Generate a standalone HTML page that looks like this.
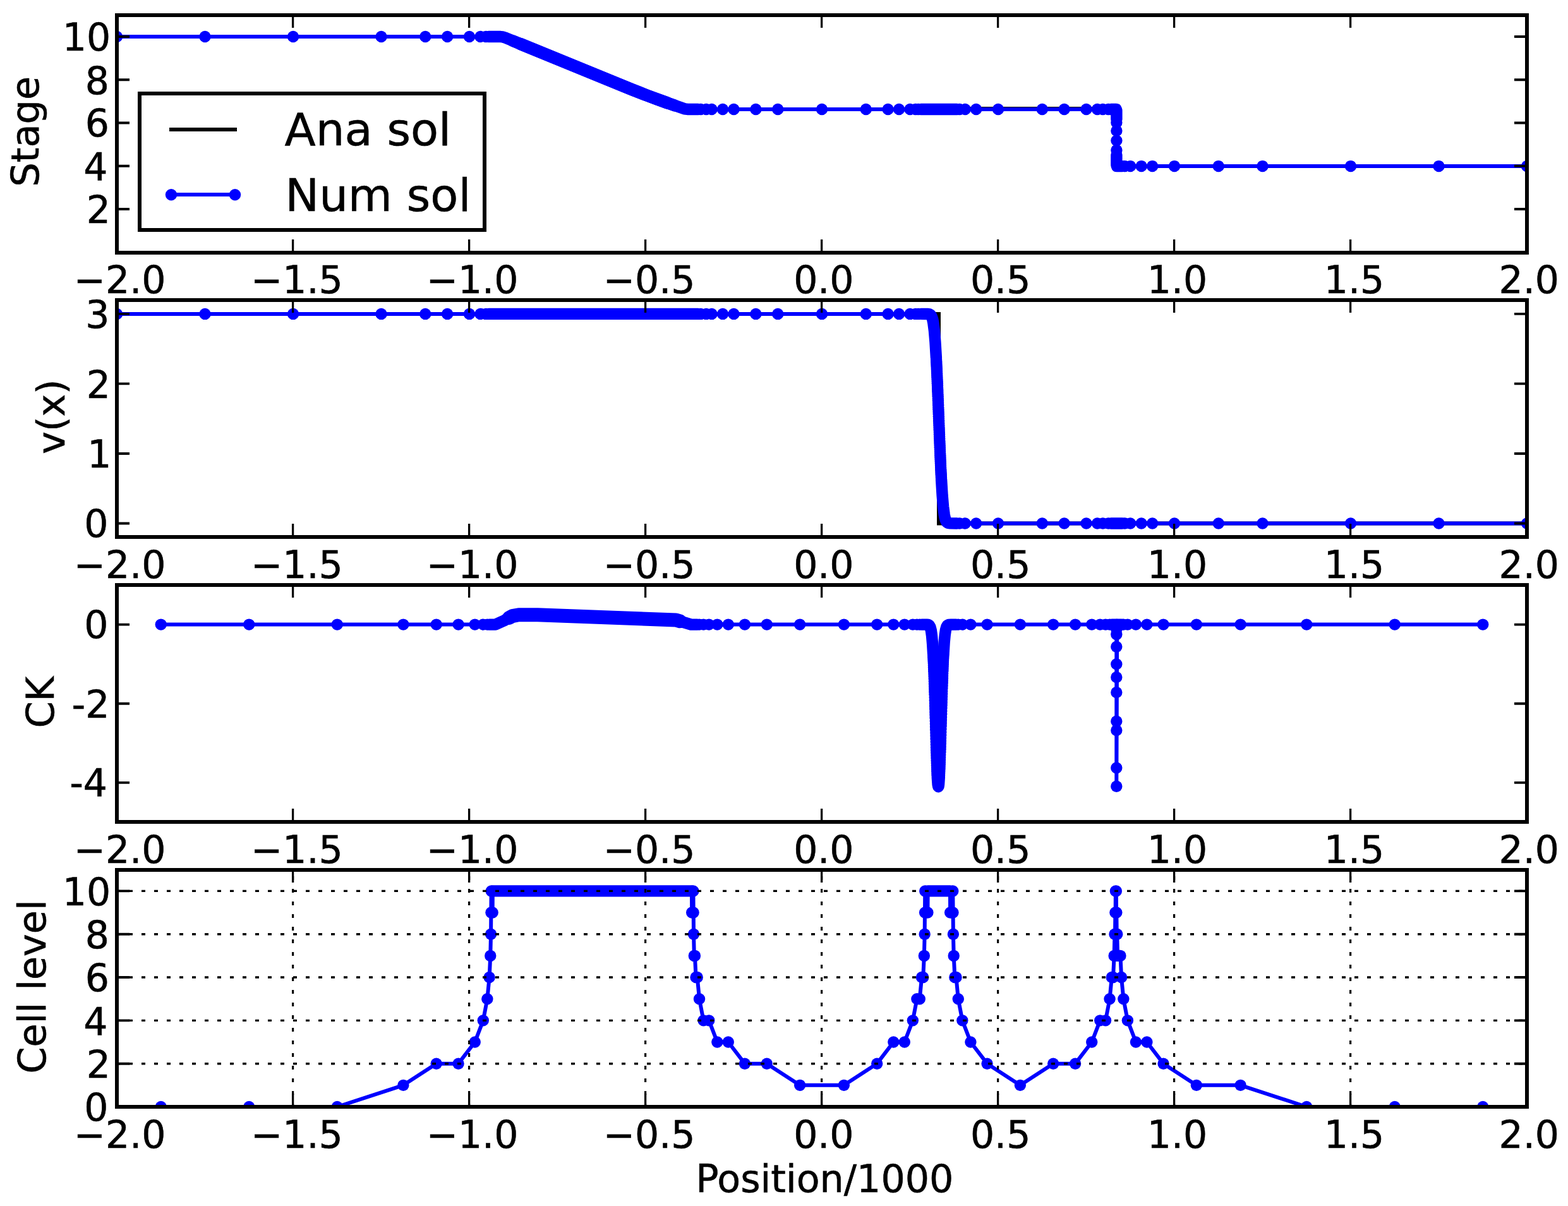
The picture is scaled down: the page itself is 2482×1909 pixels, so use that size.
<!DOCTYPE html>
<html lang="en"><head><meta charset="utf-8"><title>Dam-break adaptive mesh solution</title>
<style>html,body{margin:0;padding:0;background:#fff}svg{display:block}text{font-family:"DejaVu Sans","Liberation Sans",sans-serif;fill:#000;stroke:#000;stroke-width:0.6px}.t{font-size:60px}.lg{font-size:72px}</style></head><body>
<svg width="2482" height="1909" viewBox="0 0 2482 1909">
<rect width="2482" height="1909" fill="#fff"/>
<defs>
<clipPath id="c0"><rect x="185" y="24" width="2232" height="376"/></clipPath>
<clipPath id="c1"><rect x="185" y="475" width="2232" height="375"/></clipPath>
<clipPath id="c2"><rect x="185" y="926" width="2232" height="375"/></clipPath>
<clipPath id="c3"><rect x="185" y="1377" width="2232" height="375"/></clipPath>
</defs>
<g clip-path="url(#c0)">
<polyline points="185,58 787.64,58 1088.96,173 1501.88,173 1501.88,172.1 1767.4,172.1 1767.4,263.09 2417,263.09" fill="none" stroke="#000" stroke-width="6" stroke-linecap="butt" stroke-linejoin="miter"/>
<polyline points="185,58 791.5,58 793.95,58.19 797.08,58.83 799.54,59.65 995.98,139.96 1017.64,148.56 1045.84,159.19 1080.99,171.59 1084.26,172.47 1087.39,172.92 1766.77,173 1767.4,175 1767.4,261 1768,263.09 2417,263.09" fill="none" stroke="#0000ff" stroke-width="6" stroke-linecap="butt" stroke-linejoin="round"/>
<polyline points="773.52,58 792.32,58.03 795.45,58.44 798.72,59.34 998.43,140.95 1019.96,149.46 1043.39,158.29 1083.44,172.29 1088.21,172.97 1104.83,173" fill="none" stroke="#0000ff" stroke-width="18.4" stroke-linecap="round" stroke-linejoin="round"/>
<polyline points="1457.94,173 1514.61,173" fill="none" stroke="#0000ff" stroke-width="18.4" stroke-linecap="round" stroke-linejoin="round"/>
<polyline points="1758.73,173 1766.77,173 1767.4,175 1767.4,189" fill="none" stroke="#0000ff" stroke-width="18.4" stroke-linecap="round" stroke-linejoin="round"/>
<polyline points="1767.4,245 1767.4,261 1768,263.09 1776.17,263.09" fill="none" stroke="#0000ff" stroke-width="18.4" stroke-linecap="round" stroke-linejoin="round"/>
<circle cx="185" cy="58" r="9.2" fill="#0000ff"/>
<circle cx="324.5" cy="58" r="9.2" fill="#0000ff"/>
<circle cx="464" cy="58" r="9.2" fill="#0000ff"/>
<circle cx="603.5" cy="58" r="9.2" fill="#0000ff"/>
<circle cx="673.25" cy="58" r="9.2" fill="#0000ff"/>
<circle cx="708.12" cy="58" r="9.2" fill="#0000ff"/>
<circle cx="743" cy="58" r="9.2" fill="#0000ff"/>
<circle cx="760.44" cy="58" r="9.2" fill="#0000ff"/>
<circle cx="769.16" cy="58" r="9.2" fill="#0000ff"/>
<circle cx="1109.19" cy="173" r="9.2" fill="#0000ff"/>
<circle cx="1117.91" cy="173" r="9.2" fill="#0000ff"/>
<circle cx="1126.62" cy="173" r="9.2" fill="#0000ff"/>
<circle cx="1144.06" cy="173" r="9.2" fill="#0000ff"/>
<circle cx="1161.5" cy="173" r="9.2" fill="#0000ff"/>
<circle cx="1196.38" cy="173" r="9.2" fill="#0000ff"/>
<circle cx="1231.25" cy="173" r="9.2" fill="#0000ff"/>
<circle cx="1301" cy="173" r="9.2" fill="#0000ff"/>
<circle cx="1370.75" cy="173" r="9.2" fill="#0000ff"/>
<circle cx="1405.62" cy="173" r="9.2" fill="#0000ff"/>
<circle cx="1423.06" cy="173" r="9.2" fill="#0000ff"/>
<circle cx="1440.5" cy="173" r="9.2" fill="#0000ff"/>
<circle cx="1449.22" cy="173" r="9.2" fill="#0000ff"/>
<circle cx="1453.58" cy="173" r="9.2" fill="#0000ff"/>
<circle cx="1518.97" cy="173" r="9.2" fill="#0000ff"/>
<circle cx="1527.69" cy="173" r="9.2" fill="#0000ff"/>
<circle cx="1545.12" cy="173" r="9.2" fill="#0000ff"/>
<circle cx="1580" cy="173" r="9.2" fill="#0000ff"/>
<circle cx="1649.75" cy="173" r="9.2" fill="#0000ff"/>
<circle cx="1684.62" cy="173" r="9.2" fill="#0000ff"/>
<circle cx="1719.5" cy="173" r="9.2" fill="#0000ff"/>
<circle cx="1736.94" cy="173" r="9.2" fill="#0000ff"/>
<circle cx="1745.66" cy="173" r="9.2" fill="#0000ff"/>
<circle cx="1754.38" cy="173" r="9.2" fill="#0000ff"/>
<circle cx="1767.4" cy="194" r="9.2" fill="#0000ff"/>
<circle cx="1767.4" cy="207" r="9.2" fill="#0000ff"/>
<circle cx="1767.4" cy="222.6" r="9.2" fill="#0000ff"/>
<circle cx="1767.4" cy="237.8" r="9.2" fill="#0000ff"/>
<circle cx="1780.53" cy="263.09" r="9.2" fill="#0000ff"/>
<circle cx="1789.25" cy="263.09" r="9.2" fill="#0000ff"/>
<circle cx="1806.69" cy="263.09" r="9.2" fill="#0000ff"/>
<circle cx="1824.12" cy="263.09" r="9.2" fill="#0000ff"/>
<circle cx="1859" cy="263.09" r="9.2" fill="#0000ff"/>
<circle cx="1928.75" cy="263.09" r="9.2" fill="#0000ff"/>
<circle cx="1998.5" cy="263.09" r="9.2" fill="#0000ff"/>
<circle cx="2138" cy="263.09" r="9.2" fill="#0000ff"/>
<circle cx="2277.5" cy="263.09" r="9.2" fill="#0000ff"/>
<circle cx="2417" cy="263.09" r="9.2" fill="#0000ff"/>
<polyline points="812,64.74 1000,141.59 1020,149.48 1040,157.02 1068,167.02" fill="none" stroke="#0000ff" stroke-width="19" stroke-linecap="round" stroke-linejoin="round"/>
<polyline points="824,69.65 1000,141.59 1024,151 1056,162.79" fill="none" stroke="#0000ff" stroke-width="19.6" stroke-linecap="round" stroke-linejoin="round"/>
</g>
<path d="M463.6 400v-21 M463.6 24v20" stroke="#000" stroke-width="3.3" fill="none"/>
<path d="M742.6 400v-21 M742.6 24v20" stroke="#000" stroke-width="3.3" fill="none"/>
<path d="M1021.6 400v-21 M1021.6 24v20" stroke="#000" stroke-width="3.3" fill="none"/>
<path d="M1300.6 400v-21 M1300.6 24v20" stroke="#000" stroke-width="3.3" fill="none"/>
<path d="M1579.6 400v-21 M1579.6 24v20" stroke="#000" stroke-width="3.3" fill="none"/>
<path d="M1858.6 400v-21 M1858.6 24v20" stroke="#000" stroke-width="3.3" fill="none"/>
<path d="M2137.6 400v-21 M2137.6 24v20" stroke="#000" stroke-width="3.3" fill="none"/>
<path d="M185 331h20 M2417 331h-20" stroke="#000" stroke-width="3.9" fill="none"/>
<path d="M185 262.75h20 M2417 262.75h-20" stroke="#000" stroke-width="3.9" fill="none"/>
<path d="M185 194.5h20 M2417 194.5h-20" stroke="#000" stroke-width="3.9" fill="none"/>
<path d="M185 126.25h20 M2417 126.25h-20" stroke="#000" stroke-width="3.9" fill="none"/>
<path d="M185 58h20 M2417 58h-20" stroke="#000" stroke-width="3.9" fill="none"/>
<rect x="185" y="24" width="2232" height="376" fill="none" stroke="#000" stroke-width="6"/>
<rect x="221" y="148" width="546" height="216" fill="#fff" stroke="#000" stroke-width="6"/>
<line x1="268" y1="205" x2="375" y2="205" stroke="#000" stroke-width="6"/>
<line x1="271" y1="308" x2="372" y2="308" stroke="#0000ff" stroke-width="6"/>
<circle cx="271" cy="308.3" r="9.2" fill="#0000ff"/><circle cx="372" cy="308.3" r="9.2" fill="#0000ff"/>
<text class="lg" x="450.5" y="230">Ana sol</text>
<text class="lg" x="451.3" y="334">Num sol</text>
<g clip-path="url(#c1)">
<polyline points="185,496.89 1486,496.89 1486,828.45 2417,828.45" fill="none" stroke="#000" stroke-width="6" stroke-linecap="butt" stroke-linejoin="miter"/>
<polyline points="185,496.89 1460.12,496.89 1469.79,497.11 1471.7,497.65 1473.2,498.75 1474.42,500.51 1475.51,503.15 1476.46,506.66 1477.42,511.67 1479.19,526.29 1480.96,549.64 1482.6,579.79 1488.73,730.76 1490.22,761.68 1491.72,785.84 1493.49,805.62 1495.4,818.07 1496.49,822.2 1497.72,825.08 1499.08,826.86 1500.85,827.91 1503.44,828.36 1509.16,828.45 2417,828.45" fill="none" stroke="#0000ff" stroke-width="6" stroke-linecap="butt" stroke-linejoin="round"/>
<polyline points="773.52,496.89 1104.83,496.89" fill="none" stroke="#0000ff" stroke-width="18.4" stroke-linecap="round" stroke-linejoin="round"/>
<polyline points="1457.94,496.89 1467.75,496.94 1471.15,497.43 1472.51,498.14 1473.6,499.22 1474.56,500.77 1475.38,502.75 1476.33,506.08 1477.28,510.85 1478.92,523.52 1480.42,541.43 1481.91,566.24" fill="none" stroke="#0000ff" stroke-width="18.4" stroke-linecap="round" stroke-linejoin="round"/>
<polyline points="1490.09,759.13 1491.59,783.94 1493.08,801.84 1494.72,814.5 1495.67,819.27 1496.63,822.6 1497.58,824.84 1498.53,826.29 1499.62,827.3 1500.99,827.95 1504.26,828.4 1514.61,828.45" fill="none" stroke="#0000ff" stroke-width="18.4" stroke-linecap="round" stroke-linejoin="round"/>
<polyline points="1758.73,828.45 1776.17,828.45" fill="none" stroke="#0000ff" stroke-width="18.4" stroke-linecap="round" stroke-linejoin="round"/>
<circle cx="185" cy="496.89" r="9.2" fill="#0000ff"/>
<circle cx="324.5" cy="496.89" r="9.2" fill="#0000ff"/>
<circle cx="464" cy="496.89" r="9.2" fill="#0000ff"/>
<circle cx="603.5" cy="496.89" r="9.2" fill="#0000ff"/>
<circle cx="673.25" cy="496.89" r="9.2" fill="#0000ff"/>
<circle cx="708.12" cy="496.89" r="9.2" fill="#0000ff"/>
<circle cx="743" cy="496.89" r="9.2" fill="#0000ff"/>
<circle cx="760.44" cy="496.89" r="9.2" fill="#0000ff"/>
<circle cx="769.16" cy="496.89" r="9.2" fill="#0000ff"/>
<circle cx="1109.19" cy="496.89" r="9.2" fill="#0000ff"/>
<circle cx="1117.91" cy="496.89" r="9.2" fill="#0000ff"/>
<circle cx="1126.62" cy="496.89" r="9.2" fill="#0000ff"/>
<circle cx="1144.06" cy="496.89" r="9.2" fill="#0000ff"/>
<circle cx="1161.5" cy="496.89" r="9.2" fill="#0000ff"/>
<circle cx="1196.38" cy="496.89" r="9.2" fill="#0000ff"/>
<circle cx="1231.25" cy="496.89" r="9.2" fill="#0000ff"/>
<circle cx="1301" cy="496.89" r="9.2" fill="#0000ff"/>
<circle cx="1370.75" cy="496.89" r="9.2" fill="#0000ff"/>
<circle cx="1405.62" cy="496.89" r="9.2" fill="#0000ff"/>
<circle cx="1423.06" cy="496.89" r="9.2" fill="#0000ff"/>
<circle cx="1440.5" cy="496.89" r="9.2" fill="#0000ff"/>
<circle cx="1449.22" cy="496.89" r="9.2" fill="#0000ff"/>
<circle cx="1453.58" cy="496.89" r="9.2" fill="#0000ff"/>
<circle cx="1482.05" cy="568.84" r="9.2" fill="#0000ff"/>
<circle cx="1482.19" cy="571.5" r="9.2" fill="#0000ff"/>
<circle cx="1482.32" cy="574.21" r="9.2" fill="#0000ff"/>
<circle cx="1482.46" cy="576.97" r="9.2" fill="#0000ff"/>
<circle cx="1482.6" cy="579.79" r="9.2" fill="#0000ff"/>
<circle cx="1482.73" cy="582.66" r="9.2" fill="#0000ff"/>
<circle cx="1482.87" cy="585.58" r="9.2" fill="#0000ff"/>
<circle cx="1483" cy="588.55" r="9.2" fill="#0000ff"/>
<circle cx="1483.14" cy="591.56" r="9.2" fill="#0000ff"/>
<circle cx="1483.28" cy="594.63" r="9.2" fill="#0000ff"/>
<circle cx="1483.41" cy="597.74" r="9.2" fill="#0000ff"/>
<circle cx="1483.55" cy="600.89" r="9.2" fill="#0000ff"/>
<circle cx="1483.69" cy="604.08" r="9.2" fill="#0000ff"/>
<circle cx="1483.82" cy="607.31" r="9.2" fill="#0000ff"/>
<circle cx="1483.96" cy="610.58" r="9.2" fill="#0000ff"/>
<circle cx="1484.09" cy="613.89" r="9.2" fill="#0000ff"/>
<circle cx="1484.23" cy="617.23" r="9.2" fill="#0000ff"/>
<circle cx="1484.37" cy="620.6" r="9.2" fill="#0000ff"/>
<circle cx="1484.5" cy="624" r="9.2" fill="#0000ff"/>
<circle cx="1484.64" cy="627.43" r="9.2" fill="#0000ff"/>
<circle cx="1484.77" cy="630.89" r="9.2" fill="#0000ff"/>
<circle cx="1484.91" cy="634.36" r="9.2" fill="#0000ff"/>
<circle cx="1485.05" cy="637.86" r="9.2" fill="#0000ff"/>
<circle cx="1485.18" cy="641.37" r="9.2" fill="#0000ff"/>
<circle cx="1485.32" cy="644.9" r="9.2" fill="#0000ff"/>
<circle cx="1485.46" cy="648.45" r="9.2" fill="#0000ff"/>
<circle cx="1485.59" cy="652" r="9.2" fill="#0000ff"/>
<circle cx="1485.73" cy="655.56" r="9.2" fill="#0000ff"/>
<circle cx="1485.86" cy="659.13" r="9.2" fill="#0000ff"/>
<circle cx="1486" cy="662.7" r="9.2" fill="#0000ff"/>
<circle cx="1486.14" cy="666.26" r="9.2" fill="#0000ff"/>
<circle cx="1486.27" cy="669.83" r="9.2" fill="#0000ff"/>
<circle cx="1486.41" cy="673.39" r="9.2" fill="#0000ff"/>
<circle cx="1486.55" cy="676.94" r="9.2" fill="#0000ff"/>
<circle cx="1486.68" cy="680.49" r="9.2" fill="#0000ff"/>
<circle cx="1486.82" cy="684.02" r="9.2" fill="#0000ff"/>
<circle cx="1486.95" cy="687.53" r="9.2" fill="#0000ff"/>
<circle cx="1487.09" cy="691.03" r="9.2" fill="#0000ff"/>
<circle cx="1487.23" cy="694.5" r="9.2" fill="#0000ff"/>
<circle cx="1487.36" cy="697.96" r="9.2" fill="#0000ff"/>
<circle cx="1487.5" cy="701.39" r="9.2" fill="#0000ff"/>
<circle cx="1487.64" cy="704.79" r="9.2" fill="#0000ff"/>
<circle cx="1487.77" cy="708.16" r="9.2" fill="#0000ff"/>
<circle cx="1487.91" cy="711.5" r="9.2" fill="#0000ff"/>
<circle cx="1488.04" cy="714.8" r="9.2" fill="#0000ff"/>
<circle cx="1488.18" cy="718.07" r="9.2" fill="#0000ff"/>
<circle cx="1488.32" cy="721.31" r="9.2" fill="#0000ff"/>
<circle cx="1488.45" cy="724.5" r="9.2" fill="#0000ff"/>
<circle cx="1488.59" cy="727.65" r="9.2" fill="#0000ff"/>
<circle cx="1488.73" cy="730.76" r="9.2" fill="#0000ff"/>
<circle cx="1488.86" cy="733.82" r="9.2" fill="#0000ff"/>
<circle cx="1489" cy="736.83" r="9.2" fill="#0000ff"/>
<circle cx="1489.13" cy="739.8" r="9.2" fill="#0000ff"/>
<circle cx="1489.27" cy="742.72" r="9.2" fill="#0000ff"/>
<circle cx="1489.41" cy="745.59" r="9.2" fill="#0000ff"/>
<circle cx="1489.54" cy="748.41" r="9.2" fill="#0000ff"/>
<circle cx="1489.68" cy="751.17" r="9.2" fill="#0000ff"/>
<circle cx="1489.82" cy="753.88" r="9.2" fill="#0000ff"/>
<circle cx="1489.95" cy="756.53" r="9.2" fill="#0000ff"/>
<circle cx="1518.97" cy="828.45" r="9.2" fill="#0000ff"/>
<circle cx="1527.69" cy="828.45" r="9.2" fill="#0000ff"/>
<circle cx="1545.12" cy="828.45" r="9.2" fill="#0000ff"/>
<circle cx="1580" cy="828.45" r="9.2" fill="#0000ff"/>
<circle cx="1649.75" cy="828.45" r="9.2" fill="#0000ff"/>
<circle cx="1684.62" cy="828.45" r="9.2" fill="#0000ff"/>
<circle cx="1719.5" cy="828.45" r="9.2" fill="#0000ff"/>
<circle cx="1736.94" cy="828.45" r="9.2" fill="#0000ff"/>
<circle cx="1745.66" cy="828.45" r="9.2" fill="#0000ff"/>
<circle cx="1754.38" cy="828.45" r="9.2" fill="#0000ff"/>
<circle cx="1780.53" cy="828.45" r="9.2" fill="#0000ff"/>
<circle cx="1789.25" cy="828.45" r="9.2" fill="#0000ff"/>
<circle cx="1806.69" cy="828.45" r="9.2" fill="#0000ff"/>
<circle cx="1824.12" cy="828.45" r="9.2" fill="#0000ff"/>
<circle cx="1859" cy="828.45" r="9.2" fill="#0000ff"/>
<circle cx="1928.75" cy="828.45" r="9.2" fill="#0000ff"/>
<circle cx="1998.5" cy="828.45" r="9.2" fill="#0000ff"/>
<circle cx="2138" cy="828.45" r="9.2" fill="#0000ff"/>
<circle cx="2277.5" cy="828.45" r="9.2" fill="#0000ff"/>
<circle cx="2417" cy="828.45" r="9.2" fill="#0000ff"/>
</g>
<path d="M463.6 850v-21 M463.6 475v20" stroke="#000" stroke-width="3.3" fill="none"/>
<path d="M742.6 850v-21 M742.6 475v20" stroke="#000" stroke-width="3.3" fill="none"/>
<path d="M1021.6 850v-21 M1021.6 475v20" stroke="#000" stroke-width="3.3" fill="none"/>
<path d="M1300.6 850v-21 M1300.6 475v20" stroke="#000" stroke-width="3.3" fill="none"/>
<path d="M1579.6 850v-21 M1579.6 475v20" stroke="#000" stroke-width="3.3" fill="none"/>
<path d="M1858.6 850v-21 M1858.6 475v20" stroke="#000" stroke-width="3.3" fill="none"/>
<path d="M2137.6 850v-21 M2137.6 475v20" stroke="#000" stroke-width="3.3" fill="none"/>
<path d="M185 828.45h20 M2417 828.45h-20" stroke="#000" stroke-width="3.9" fill="none"/>
<path d="M185 717.93h20 M2417 717.93h-20" stroke="#000" stroke-width="3.9" fill="none"/>
<path d="M185 607.41h20 M2417 607.41h-20" stroke="#000" stroke-width="3.9" fill="none"/>
<path d="M185 496.89h20 M2417 496.89h-20" stroke="#000" stroke-width="3.9" fill="none"/>
<rect x="185" y="475" width="2232" height="375" fill="none" stroke="#000" stroke-width="6"/>
<g clip-path="url(#c2)">
<polyline points="254.75,988.6 783.94,988.6 797.97,982.36 811.05,975.14 820.99,973.27 850.96,973.27 1069.89,981.4 1094,988.6 1464.89,988.6 1468.77,988.86 1470.4,989.56 1471.63,990.91 1472.72,993.35 1473.54,996.45 1475.03,1006.63 1476.4,1023.42 1477.62,1046.72 1478.71,1074.58 1483.07,1215.01 1484.16,1236.94 1484.71,1242.91 1485.25,1245.16 1485.52,1244.85 1485.8,1243.59 1486.34,1238.26 1487.43,1217.43 1491.79,1077.36 1493.02,1045.83 1494.11,1024.96 1495.47,1007.55 1496.97,996.91 1497.78,993.65 1498.74,991.31 1499.96,989.74 1501.46,988.96 1505.48,988.6 1767.3,988.6 1767.3,1244.7 1768.27,988.6 2347.25,988.6" fill="none" stroke="#0000ff" stroke-width="6" stroke-linecap="butt" stroke-linejoin="round"/>
<polyline points="774.61,988.6 784.07,988.57 797.97,982.36 811.05,975.14 821.13,973.27 851.1,973.27 1069.89,981.4 1094,988.6 1103.74,988.6" fill="none" stroke="#0000ff" stroke-width="18.4" stroke-linecap="round" stroke-linejoin="round"/>
<polyline points="1459.03,988.6 1466.52,988.64 1469.18,988.97 1470.27,989.46 1471.08,990.18 1472.45,992.59 1473.81,997.81 1475.03,1006.63 1476.12,1019.36 1477.08,1035.32" fill="none" stroke="#0000ff" stroke-width="18.4" stroke-linecap="round" stroke-linejoin="round"/>
<polyline points="1483.75,1230.17 1484.57,1241.76 1485.25,1245.16 1485.66,1244.34 1486.07,1241.38 1486.89,1229.41" fill="none" stroke="#0000ff" stroke-width="18.4" stroke-linecap="round" stroke-linejoin="round"/>
<polyline points="1493.56,1034.56 1494.65,1016.93 1495.74,1005.05 1496.97,996.91 1498.33,992.16 1499.83,989.86 1501.74,988.88 1505.48,988.6 1513.52,988.6" fill="none" stroke="#0000ff" stroke-width="18.4" stroke-linecap="round" stroke-linejoin="round"/>
<polyline points="1759.82,988.6 1767.3,988.6" fill="none" stroke="#0000ff" stroke-width="18.4" stroke-linecap="round" stroke-linejoin="round"/>
<polyline points="1768.27,988.6 1775.08,988.6" fill="none" stroke="#0000ff" stroke-width="18.4" stroke-linecap="round" stroke-linejoin="round"/>
<circle cx="254.75" cy="988.6" r="9.2" fill="#0000ff"/>
<circle cx="394.25" cy="988.6" r="9.2" fill="#0000ff"/>
<circle cx="533.75" cy="988.6" r="9.2" fill="#0000ff"/>
<circle cx="638.38" cy="988.6" r="9.2" fill="#0000ff"/>
<circle cx="690.69" cy="988.6" r="9.2" fill="#0000ff"/>
<circle cx="725.56" cy="988.6" r="9.2" fill="#0000ff"/>
<circle cx="751.72" cy="988.6" r="9.2" fill="#0000ff"/>
<circle cx="764.8" cy="988.6" r="9.2" fill="#0000ff"/>
<circle cx="771.34" cy="988.6" r="9.2" fill="#0000ff"/>
<circle cx="1107.01" cy="988.6" r="9.2" fill="#0000ff"/>
<circle cx="1113.55" cy="988.6" r="9.2" fill="#0000ff"/>
<circle cx="1122.27" cy="988.6" r="9.2" fill="#0000ff"/>
<circle cx="1135.34" cy="988.6" r="9.2" fill="#0000ff"/>
<circle cx="1152.78" cy="988.6" r="9.2" fill="#0000ff"/>
<circle cx="1178.94" cy="988.6" r="9.2" fill="#0000ff"/>
<circle cx="1213.81" cy="988.6" r="9.2" fill="#0000ff"/>
<circle cx="1266.12" cy="988.6" r="9.2" fill="#0000ff"/>
<circle cx="1335.88" cy="988.6" r="9.2" fill="#0000ff"/>
<circle cx="1388.19" cy="988.6" r="9.2" fill="#0000ff"/>
<circle cx="1414.34" cy="988.6" r="9.2" fill="#0000ff"/>
<circle cx="1431.78" cy="988.6" r="9.2" fill="#0000ff"/>
<circle cx="1444.86" cy="988.6" r="9.2" fill="#0000ff"/>
<circle cx="1451.4" cy="988.6" r="9.2" fill="#0000ff"/>
<circle cx="1455.76" cy="988.6" r="9.2" fill="#0000ff"/>
<circle cx="1477.21" cy="1038.01" r="9.2" fill="#0000ff"/>
<circle cx="1477.35" cy="1040.8" r="9.2" fill="#0000ff"/>
<circle cx="1477.49" cy="1043.71" r="9.2" fill="#0000ff"/>
<circle cx="1477.62" cy="1046.72" r="9.2" fill="#0000ff"/>
<circle cx="1477.76" cy="1049.83" r="9.2" fill="#0000ff"/>
<circle cx="1477.9" cy="1053.06" r="9.2" fill="#0000ff"/>
<circle cx="1478.03" cy="1056.38" r="9.2" fill="#0000ff"/>
<circle cx="1478.17" cy="1059.82" r="9.2" fill="#0000ff"/>
<circle cx="1478.3" cy="1063.36" r="9.2" fill="#0000ff"/>
<circle cx="1478.44" cy="1067" r="9.2" fill="#0000ff"/>
<circle cx="1478.58" cy="1070.74" r="9.2" fill="#0000ff"/>
<circle cx="1478.71" cy="1074.58" r="9.2" fill="#0000ff"/>
<circle cx="1478.85" cy="1078.52" r="9.2" fill="#0000ff"/>
<circle cx="1478.99" cy="1082.54" r="9.2" fill="#0000ff"/>
<circle cx="1479.12" cy="1086.66" r="9.2" fill="#0000ff"/>
<circle cx="1479.26" cy="1090.86" r="9.2" fill="#0000ff"/>
<circle cx="1479.39" cy="1095.14" r="9.2" fill="#0000ff"/>
<circle cx="1479.53" cy="1099.5" r="9.2" fill="#0000ff"/>
<circle cx="1479.67" cy="1103.93" r="9.2" fill="#0000ff"/>
<circle cx="1479.8" cy="1108.42" r="9.2" fill="#0000ff"/>
<circle cx="1479.94" cy="1112.97" r="9.2" fill="#0000ff"/>
<circle cx="1480.07" cy="1117.57" r="9.2" fill="#0000ff"/>
<circle cx="1480.21" cy="1122.22" r="9.2" fill="#0000ff"/>
<circle cx="1480.35" cy="1126.9" r="9.2" fill="#0000ff"/>
<circle cx="1480.48" cy="1131.62" r="9.2" fill="#0000ff"/>
<circle cx="1480.62" cy="1136.36" r="9.2" fill="#0000ff"/>
<circle cx="1480.76" cy="1141.11" r="9.2" fill="#0000ff"/>
<circle cx="1480.89" cy="1145.87" r="9.2" fill="#0000ff"/>
<circle cx="1481.03" cy="1150.62" r="9.2" fill="#0000ff"/>
<circle cx="1481.16" cy="1155.37" r="9.2" fill="#0000ff"/>
<circle cx="1481.3" cy="1160.09" r="9.2" fill="#0000ff"/>
<circle cx="1481.44" cy="1164.78" r="9.2" fill="#0000ff"/>
<circle cx="1481.57" cy="1169.43" r="9.2" fill="#0000ff"/>
<circle cx="1481.71" cy="1174.03" r="9.2" fill="#0000ff"/>
<circle cx="1481.85" cy="1178.57" r="9.2" fill="#0000ff"/>
<circle cx="1481.98" cy="1183.03" r="9.2" fill="#0000ff"/>
<circle cx="1482.12" cy="1187.42" r="9.2" fill="#0000ff"/>
<circle cx="1482.25" cy="1191.71" r="9.2" fill="#0000ff"/>
<circle cx="1482.39" cy="1195.91" r="9.2" fill="#0000ff"/>
<circle cx="1482.53" cy="1199.99" r="9.2" fill="#0000ff"/>
<circle cx="1482.66" cy="1203.95" r="9.2" fill="#0000ff"/>
<circle cx="1482.8" cy="1207.78" r="9.2" fill="#0000ff"/>
<circle cx="1482.94" cy="1211.47" r="9.2" fill="#0000ff"/>
<circle cx="1483.07" cy="1215.01" r="9.2" fill="#0000ff"/>
<circle cx="1483.21" cy="1218.4" r="9.2" fill="#0000ff"/>
<circle cx="1483.34" cy="1221.61" r="9.2" fill="#0000ff"/>
<circle cx="1483.48" cy="1224.65" r="9.2" fill="#0000ff"/>
<circle cx="1483.62" cy="1227.5" r="9.2" fill="#0000ff"/>
<circle cx="1487.02" cy="1226.69" r="9.2" fill="#0000ff"/>
<circle cx="1487.16" cy="1223.78" r="9.2" fill="#0000ff"/>
<circle cx="1487.3" cy="1220.69" r="9.2" fill="#0000ff"/>
<circle cx="1487.43" cy="1217.43" r="9.2" fill="#0000ff"/>
<circle cx="1487.57" cy="1214" r="9.2" fill="#0000ff"/>
<circle cx="1487.7" cy="1210.41" r="9.2" fill="#0000ff"/>
<circle cx="1487.84" cy="1206.68" r="9.2" fill="#0000ff"/>
<circle cx="1487.98" cy="1202.81" r="9.2" fill="#0000ff"/>
<circle cx="1488.11" cy="1198.81" r="9.2" fill="#0000ff"/>
<circle cx="1488.25" cy="1194.7" r="9.2" fill="#0000ff"/>
<circle cx="1488.39" cy="1190.47" r="9.2" fill="#0000ff"/>
<circle cx="1488.52" cy="1186.15" r="9.2" fill="#0000ff"/>
<circle cx="1488.66" cy="1181.74" r="9.2" fill="#0000ff"/>
<circle cx="1488.79" cy="1177.25" r="9.2" fill="#0000ff"/>
<circle cx="1488.93" cy="1172.69" r="9.2" fill="#0000ff"/>
<circle cx="1489.07" cy="1168.08" r="9.2" fill="#0000ff"/>
<circle cx="1489.2" cy="1163.42" r="9.2" fill="#0000ff"/>
<circle cx="1489.34" cy="1158.72" r="9.2" fill="#0000ff"/>
<circle cx="1489.47" cy="1153.99" r="9.2" fill="#0000ff"/>
<circle cx="1489.61" cy="1149.24" r="9.2" fill="#0000ff"/>
<circle cx="1489.75" cy="1144.48" r="9.2" fill="#0000ff"/>
<circle cx="1489.88" cy="1139.73" r="9.2" fill="#0000ff"/>
<circle cx="1490.02" cy="1134.98" r="9.2" fill="#0000ff"/>
<circle cx="1490.16" cy="1130.24" r="9.2" fill="#0000ff"/>
<circle cx="1490.29" cy="1125.53" r="9.2" fill="#0000ff"/>
<circle cx="1490.43" cy="1120.86" r="9.2" fill="#0000ff"/>
<circle cx="1490.56" cy="1116.22" r="9.2" fill="#0000ff"/>
<circle cx="1490.7" cy="1111.64" r="9.2" fill="#0000ff"/>
<circle cx="1490.84" cy="1107.1" r="9.2" fill="#0000ff"/>
<circle cx="1490.97" cy="1102.63" r="9.2" fill="#0000ff"/>
<circle cx="1491.11" cy="1098.22" r="9.2" fill="#0000ff"/>
<circle cx="1491.25" cy="1093.89" r="9.2" fill="#0000ff"/>
<circle cx="1491.38" cy="1089.63" r="9.2" fill="#0000ff"/>
<circle cx="1491.52" cy="1085.45" r="9.2" fill="#0000ff"/>
<circle cx="1491.65" cy="1081.36" r="9.2" fill="#0000ff"/>
<circle cx="1491.79" cy="1077.36" r="9.2" fill="#0000ff"/>
<circle cx="1491.93" cy="1073.45" r="9.2" fill="#0000ff"/>
<circle cx="1492.06" cy="1069.64" r="9.2" fill="#0000ff"/>
<circle cx="1492.2" cy="1065.93" r="9.2" fill="#0000ff"/>
<circle cx="1492.34" cy="1062.32" r="9.2" fill="#0000ff"/>
<circle cx="1492.47" cy="1058.81" r="9.2" fill="#0000ff"/>
<circle cx="1492.61" cy="1055.4" r="9.2" fill="#0000ff"/>
<circle cx="1492.74" cy="1052.11" r="9.2" fill="#0000ff"/>
<circle cx="1492.88" cy="1048.91" r="9.2" fill="#0000ff"/>
<circle cx="1493.02" cy="1045.83" r="9.2" fill="#0000ff"/>
<circle cx="1493.15" cy="1042.85" r="9.2" fill="#0000ff"/>
<circle cx="1493.29" cy="1039.98" r="9.2" fill="#0000ff"/>
<circle cx="1493.43" cy="1037.21" r="9.2" fill="#0000ff"/>
<circle cx="1516.79" cy="988.6" r="9.2" fill="#0000ff"/>
<circle cx="1523.33" cy="988.6" r="9.2" fill="#0000ff"/>
<circle cx="1536.41" cy="988.6" r="9.2" fill="#0000ff"/>
<circle cx="1562.56" cy="988.6" r="9.2" fill="#0000ff"/>
<circle cx="1614.88" cy="988.6" r="9.2" fill="#0000ff"/>
<circle cx="1667.19" cy="988.6" r="9.2" fill="#0000ff"/>
<circle cx="1702.06" cy="988.6" r="9.2" fill="#0000ff"/>
<circle cx="1728.22" cy="988.6" r="9.2" fill="#0000ff"/>
<circle cx="1741.3" cy="988.6" r="9.2" fill="#0000ff"/>
<circle cx="1750.02" cy="988.6" r="9.2" fill="#0000ff"/>
<circle cx="1756.55" cy="988.6" r="9.2" fill="#0000ff"/>
<circle cx="1767.3" cy="996" r="9.2" fill="#0000ff"/>
<circle cx="1767.3" cy="1004.3" r="9.2" fill="#0000ff"/>
<circle cx="1767.3" cy="1023.7" r="9.2" fill="#0000ff"/>
<circle cx="1767.3" cy="1051.3" r="9.2" fill="#0000ff"/>
<circle cx="1767.3" cy="1072" r="9.2" fill="#0000ff"/>
<circle cx="1767.3" cy="1096" r="9.2" fill="#0000ff"/>
<circle cx="1767.3" cy="1141.7" r="9.2" fill="#0000ff"/>
<circle cx="1767.3" cy="1156.1" r="9.2" fill="#0000ff"/>
<circle cx="1767.3" cy="1215.5" r="9.2" fill="#0000ff"/>
<circle cx="1767.3" cy="1244.7" r="9.2" fill="#0000ff"/>
<circle cx="1778.35" cy="988.6" r="9.2" fill="#0000ff"/>
<circle cx="1784.89" cy="988.6" r="9.2" fill="#0000ff"/>
<circle cx="1797.97" cy="988.6" r="9.2" fill="#0000ff"/>
<circle cx="1815.41" cy="988.6" r="9.2" fill="#0000ff"/>
<circle cx="1841.56" cy="988.6" r="9.2" fill="#0000ff"/>
<circle cx="1893.88" cy="988.6" r="9.2" fill="#0000ff"/>
<circle cx="1963.62" cy="988.6" r="9.2" fill="#0000ff"/>
<circle cx="2068.25" cy="988.6" r="9.2" fill="#0000ff"/>
<circle cx="2207.75" cy="988.6" r="9.2" fill="#0000ff"/>
<circle cx="2347.25" cy="988.6" r="9.2" fill="#0000ff"/>
<polyline points="806,977.91 811,975.15 821,973.27 851,973.27 1070,981.4 1076,983.28" fill="none" stroke="#0000ff" stroke-width="22" stroke-linecap="round" stroke-linejoin="round"/>
</g>
<path d="M463.6 1301v-21 M463.6 926v20" stroke="#000" stroke-width="3.3" fill="none"/>
<path d="M742.6 1301v-21 M742.6 926v20" stroke="#000" stroke-width="3.3" fill="none"/>
<path d="M1021.6 1301v-21 M1021.6 926v20" stroke="#000" stroke-width="3.3" fill="none"/>
<path d="M1300.6 1301v-21 M1300.6 926v20" stroke="#000" stroke-width="3.3" fill="none"/>
<path d="M1579.6 1301v-21 M1579.6 926v20" stroke="#000" stroke-width="3.3" fill="none"/>
<path d="M1858.6 1301v-21 M1858.6 926v20" stroke="#000" stroke-width="3.3" fill="none"/>
<path d="M2137.6 1301v-21 M2137.6 926v20" stroke="#000" stroke-width="3.3" fill="none"/>
<path d="M185 988.6h20 M2417 988.6h-20" stroke="#000" stroke-width="3.9" fill="none"/>
<path d="M185 1113.76h20 M2417 1113.76h-20" stroke="#000" stroke-width="3.9" fill="none"/>
<path d="M185 1238.92h20 M2417 1238.92h-20" stroke="#000" stroke-width="3.9" fill="none"/>
<rect x="185" y="926" width="2232" height="375" fill="none" stroke="#000" stroke-width="6"/>
<g clip-path="url(#c3)">
<polyline points="254.75,1752 533.75,1752 638.38,1717.84 690.69,1683.68 725.56,1683.68 751.72,1649.52 764.8,1615.36 771.34,1581.2 774.61,1547.04 776.24,1512.88 777.06,1478.72 777.67,1410.4 778.01,1444.56 779.65,1444.56 779.85,1410.4 1094.95,1410.4 1095.16,1444.56 1096.52,1444.56 1096.72,1410.4 1097.4,1410.4 1098.02,1478.72 1098.83,1512.88 1099.92,1512.88 1101.56,1547.04 1103.74,1547.04 1107.01,1581.2 1113.55,1615.36 1122.27,1615.36 1135.34,1649.52 1152.78,1649.52 1178.94,1683.68 1213.81,1683.68 1266.12,1717.84 1335.88,1717.84 1388.19,1683.68 1414.34,1649.52 1431.78,1649.52 1444.86,1615.36 1451.4,1581.2 1455.76,1581.2 1459.03,1547.04 1461.21,1547.04 1462.84,1512.88 1463.66,1478.72 1464.27,1410.4 1464.68,1410.4 1464.89,1444.56 1468.43,1444.56 1468.63,1410.4 1503.92,1410.4 1504.12,1444.56 1507.66,1444.56 1507.87,1410.4 1508.27,1410.4 1508.89,1478.72 1509.71,1512.88 1511.34,1547.04 1513.52,1547.04 1516.79,1581.2 1523.33,1615.36 1536.41,1649.52 1562.56,1683.68 1614.88,1717.84 1667.19,1683.68 1702.06,1683.68 1728.22,1649.52 1741.3,1615.36 1750.02,1615.36 1756.55,1581.2 1759.82,1547.04 1762,1547.04 1763.64,1512.88 1764.46,1478.72 1765,1478.72 1765.41,1444.56 1765.68,1444.56 1765.89,1410.4 1766.84,1410.4 1767.04,1444.56 1767.32,1444.56 1767.73,1478.72 1768.27,1478.72 1769.09,1512.88 1773.45,1512.88 1775.08,1547.04 1778.35,1581.2 1784.89,1615.36 1797.97,1649.52 1815.41,1649.52 1841.56,1683.68 1893.88,1717.84 1963.62,1717.84 2068.25,1752 2347.25,1752" fill="none" stroke="#0000ff" stroke-width="6" stroke-linecap="butt" stroke-linejoin="round"/>
<polyline points="777.67,1410.4 777.81,1410.4" fill="none" stroke="#0000ff" stroke-width="18.4" stroke-linecap="round" stroke-linejoin="round"/>
<polyline points="778.01,1444.56 779.65,1444.56" fill="none" stroke="#0000ff" stroke-width="18.4" stroke-linecap="round" stroke-linejoin="round"/>
<polyline points="779.85,1410.4 1094.95,1410.4" fill="none" stroke="#0000ff" stroke-width="18.4" stroke-linecap="round" stroke-linejoin="round"/>
<polyline points="1095.16,1444.56 1096.52,1444.56" fill="none" stroke="#0000ff" stroke-width="18.4" stroke-linecap="round" stroke-linejoin="round"/>
<polyline points="1096.72,1410.4 1097.4,1410.4" fill="none" stroke="#0000ff" stroke-width="18.4" stroke-linecap="round" stroke-linejoin="round"/>
<polyline points="1098.83,1512.88 1099.92,1512.88" fill="none" stroke="#0000ff" stroke-width="18.4" stroke-linecap="round" stroke-linejoin="round"/>
<polyline points="1101.56,1547.04 1103.74,1547.04" fill="none" stroke="#0000ff" stroke-width="18.4" stroke-linecap="round" stroke-linejoin="round"/>
<polyline points="1459.03,1547.04 1461.21,1547.04" fill="none" stroke="#0000ff" stroke-width="18.4" stroke-linecap="round" stroke-linejoin="round"/>
<polyline points="1464.27,1410.4 1464.68,1410.4" fill="none" stroke="#0000ff" stroke-width="18.4" stroke-linecap="round" stroke-linejoin="round"/>
<polyline points="1464.89,1444.56 1468.43,1444.56" fill="none" stroke="#0000ff" stroke-width="18.4" stroke-linecap="round" stroke-linejoin="round"/>
<polyline points="1468.63,1410.4 1503.92,1410.4" fill="none" stroke="#0000ff" stroke-width="18.4" stroke-linecap="round" stroke-linejoin="round"/>
<polyline points="1504.12,1444.56 1507.66,1444.56" fill="none" stroke="#0000ff" stroke-width="18.4" stroke-linecap="round" stroke-linejoin="round"/>
<polyline points="1507.87,1410.4 1508.27,1410.4" fill="none" stroke="#0000ff" stroke-width="18.4" stroke-linecap="round" stroke-linejoin="round"/>
<polyline points="1511.34,1547.04 1513.52,1547.04" fill="none" stroke="#0000ff" stroke-width="18.4" stroke-linecap="round" stroke-linejoin="round"/>
<polyline points="1759.82,1547.04 1762,1547.04" fill="none" stroke="#0000ff" stroke-width="18.4" stroke-linecap="round" stroke-linejoin="round"/>
<polyline points="1764.46,1478.72 1765,1478.72" fill="none" stroke="#0000ff" stroke-width="18.4" stroke-linecap="round" stroke-linejoin="round"/>
<polyline points="1765.41,1444.56 1765.68,1444.56" fill="none" stroke="#0000ff" stroke-width="18.4" stroke-linecap="round" stroke-linejoin="round"/>
<polyline points="1765.89,1410.4 1766.84,1410.4" fill="none" stroke="#0000ff" stroke-width="18.4" stroke-linecap="round" stroke-linejoin="round"/>
<polyline points="1767.04,1444.56 1767.32,1444.56" fill="none" stroke="#0000ff" stroke-width="18.4" stroke-linecap="round" stroke-linejoin="round"/>
<polyline points="1767.73,1478.72 1768.27,1478.72" fill="none" stroke="#0000ff" stroke-width="18.4" stroke-linecap="round" stroke-linejoin="round"/>
<polyline points="1769.09,1512.88 1773.45,1512.88" fill="none" stroke="#0000ff" stroke-width="18.4" stroke-linecap="round" stroke-linejoin="round"/>
<circle cx="254.75" cy="1752" r="9.2" fill="#0000ff"/>
<circle cx="394.25" cy="1752" r="9.2" fill="#0000ff"/>
<circle cx="533.75" cy="1752" r="9.2" fill="#0000ff"/>
<circle cx="638.38" cy="1717.84" r="9.2" fill="#0000ff"/>
<circle cx="690.69" cy="1683.68" r="9.2" fill="#0000ff"/>
<circle cx="725.56" cy="1683.68" r="9.2" fill="#0000ff"/>
<circle cx="751.72" cy="1649.52" r="9.2" fill="#0000ff"/>
<circle cx="764.8" cy="1615.36" r="9.2" fill="#0000ff"/>
<circle cx="771.34" cy="1581.2" r="9.2" fill="#0000ff"/>
<circle cx="774.61" cy="1547.04" r="9.2" fill="#0000ff"/>
<circle cx="776.24" cy="1512.88" r="9.2" fill="#0000ff"/>
<circle cx="777.06" cy="1478.72" r="9.2" fill="#0000ff"/>
<circle cx="777.47" cy="1444.56" r="9.2" fill="#0000ff"/>
<circle cx="1097.61" cy="1444.56" r="9.2" fill="#0000ff"/>
<circle cx="1098.02" cy="1478.72" r="9.2" fill="#0000ff"/>
<circle cx="1107.01" cy="1581.2" r="9.2" fill="#0000ff"/>
<circle cx="1113.55" cy="1615.36" r="9.2" fill="#0000ff"/>
<circle cx="1122.27" cy="1615.36" r="9.2" fill="#0000ff"/>
<circle cx="1135.34" cy="1649.52" r="9.2" fill="#0000ff"/>
<circle cx="1152.78" cy="1649.52" r="9.2" fill="#0000ff"/>
<circle cx="1178.94" cy="1683.68" r="9.2" fill="#0000ff"/>
<circle cx="1213.81" cy="1683.68" r="9.2" fill="#0000ff"/>
<circle cx="1266.12" cy="1717.84" r="9.2" fill="#0000ff"/>
<circle cx="1335.88" cy="1717.84" r="9.2" fill="#0000ff"/>
<circle cx="1388.19" cy="1683.68" r="9.2" fill="#0000ff"/>
<circle cx="1414.34" cy="1649.52" r="9.2" fill="#0000ff"/>
<circle cx="1431.78" cy="1649.52" r="9.2" fill="#0000ff"/>
<circle cx="1444.86" cy="1615.36" r="9.2" fill="#0000ff"/>
<circle cx="1451.4" cy="1581.2" r="9.2" fill="#0000ff"/>
<circle cx="1455.76" cy="1581.2" r="9.2" fill="#0000ff"/>
<circle cx="1462.84" cy="1512.88" r="9.2" fill="#0000ff"/>
<circle cx="1463.66" cy="1478.72" r="9.2" fill="#0000ff"/>
<circle cx="1464.07" cy="1444.56" r="9.2" fill="#0000ff"/>
<circle cx="1508.48" cy="1444.56" r="9.2" fill="#0000ff"/>
<circle cx="1508.89" cy="1478.72" r="9.2" fill="#0000ff"/>
<circle cx="1509.71" cy="1512.88" r="9.2" fill="#0000ff"/>
<circle cx="1516.79" cy="1581.2" r="9.2" fill="#0000ff"/>
<circle cx="1523.33" cy="1615.36" r="9.2" fill="#0000ff"/>
<circle cx="1536.41" cy="1649.52" r="9.2" fill="#0000ff"/>
<circle cx="1562.56" cy="1683.68" r="9.2" fill="#0000ff"/>
<circle cx="1614.88" cy="1717.84" r="9.2" fill="#0000ff"/>
<circle cx="1667.19" cy="1683.68" r="9.2" fill="#0000ff"/>
<circle cx="1702.06" cy="1683.68" r="9.2" fill="#0000ff"/>
<circle cx="1728.22" cy="1649.52" r="9.2" fill="#0000ff"/>
<circle cx="1741.3" cy="1615.36" r="9.2" fill="#0000ff"/>
<circle cx="1750.02" cy="1615.36" r="9.2" fill="#0000ff"/>
<circle cx="1756.55" cy="1581.2" r="9.2" fill="#0000ff"/>
<circle cx="1763.64" cy="1512.88" r="9.2" fill="#0000ff"/>
<circle cx="1775.08" cy="1547.04" r="9.2" fill="#0000ff"/>
<circle cx="1778.35" cy="1581.2" r="9.2" fill="#0000ff"/>
<circle cx="1784.89" cy="1615.36" r="9.2" fill="#0000ff"/>
<circle cx="1797.97" cy="1649.52" r="9.2" fill="#0000ff"/>
<circle cx="1815.41" cy="1649.52" r="9.2" fill="#0000ff"/>
<circle cx="1841.56" cy="1683.68" r="9.2" fill="#0000ff"/>
<circle cx="1893.88" cy="1717.84" r="9.2" fill="#0000ff"/>
<circle cx="1963.62" cy="1717.84" r="9.2" fill="#0000ff"/>
<circle cx="2068.25" cy="1752" r="9.2" fill="#0000ff"/>
<circle cx="2207.75" cy="1752" r="9.2" fill="#0000ff"/>
<circle cx="2347.25" cy="1752" r="9.2" fill="#0000ff"/>
</g>
<line x1="185" y1="1683.68" x2="2417" y2="1683.68" stroke="#000" stroke-width="3.4" stroke-dasharray="6 14" stroke-dashoffset="1"/>
<line x1="185" y1="1615.36" x2="2417" y2="1615.36" stroke="#000" stroke-width="3.4" stroke-dasharray="6 14" stroke-dashoffset="1"/>
<line x1="185" y1="1547.04" x2="2417" y2="1547.04" stroke="#000" stroke-width="3.4" stroke-dasharray="6 14" stroke-dashoffset="1"/>
<line x1="185" y1="1478.72" x2="2417" y2="1478.72" stroke="#000" stroke-width="3.4" stroke-dasharray="6 14" stroke-dashoffset="1"/>
<line x1="185" y1="1410.4" x2="2417" y2="1410.4" stroke="#000" stroke-width="3.4" stroke-dasharray="6 14" stroke-dashoffset="1"/>
<line x1="463.6" y1="1752" x2="463.6" y2="1377" stroke="#000" stroke-width="3.2" stroke-dasharray="6 14" stroke-dashoffset="1"/>
<line x1="742.6" y1="1752" x2="742.6" y2="1377" stroke="#000" stroke-width="3.2" stroke-dasharray="6 14" stroke-dashoffset="1"/>
<line x1="1021.6" y1="1752" x2="1021.6" y2="1377" stroke="#000" stroke-width="3.2" stroke-dasharray="6 14" stroke-dashoffset="1"/>
<line x1="1300.6" y1="1752" x2="1300.6" y2="1377" stroke="#000" stroke-width="3.2" stroke-dasharray="6 14" stroke-dashoffset="1"/>
<line x1="1579.6" y1="1752" x2="1579.6" y2="1377" stroke="#000" stroke-width="3.2" stroke-dasharray="6 14" stroke-dashoffset="1"/>
<line x1="1858.6" y1="1752" x2="1858.6" y2="1377" stroke="#000" stroke-width="3.2" stroke-dasharray="6 14" stroke-dashoffset="1"/>
<line x1="2137.6" y1="1752" x2="2137.6" y2="1377" stroke="#000" stroke-width="3.2" stroke-dasharray="6 14" stroke-dashoffset="1"/>
<path d="M463.6 1752v-21 M463.6 1377v20" stroke="#000" stroke-width="3.3" fill="none"/>
<path d="M742.6 1752v-21 M742.6 1377v20" stroke="#000" stroke-width="3.3" fill="none"/>
<path d="M1021.6 1752v-21 M1021.6 1377v20" stroke="#000" stroke-width="3.3" fill="none"/>
<path d="M1300.6 1752v-21 M1300.6 1377v20" stroke="#000" stroke-width="3.3" fill="none"/>
<path d="M1579.6 1752v-21 M1579.6 1377v20" stroke="#000" stroke-width="3.3" fill="none"/>
<path d="M1858.6 1752v-21 M1858.6 1377v20" stroke="#000" stroke-width="3.3" fill="none"/>
<path d="M2137.6 1752v-21 M2137.6 1377v20" stroke="#000" stroke-width="3.3" fill="none"/>
<path d="M185 1752h20 M2417 1752h-20" stroke="#000" stroke-width="3.9" fill="none"/>
<path d="M185 1683.68h20 M2417 1683.68h-20" stroke="#000" stroke-width="3.9" fill="none"/>
<path d="M185 1615.36h20 M2417 1615.36h-20" stroke="#000" stroke-width="3.9" fill="none"/>
<path d="M185 1547.04h20 M2417 1547.04h-20" stroke="#000" stroke-width="3.9" fill="none"/>
<path d="M185 1478.72h20 M2417 1478.72h-20" stroke="#000" stroke-width="3.9" fill="none"/>
<path d="M185 1410.4h20 M2417 1410.4h-20" stroke="#000" stroke-width="3.9" fill="none"/>
<rect x="185" y="1377" width="2232" height="375" fill="none" stroke="#000" stroke-width="6"/>
<g class="t">
<text x="116.84" y="464">−2.0</text>
<text x="397.04" y="464">−1.5</text>
<text x="674.64" y="464">−1.0</text>
<text x="954.84" y="464">−0.5</text>
<text x="1256.14" y="464">0.0</text>
<text x="1535.94" y="464">0.5</text>
<text x="1815.71" y="464">1.0</text>
<text x="2095.71" y="464">1.5</text>
<text x="2372.61" y="464">2.0</text>
</g>
<g class="t">
<text x="116.84" y="915">−2.0</text>
<text x="397.04" y="915">−1.5</text>
<text x="674.64" y="915">−1.0</text>
<text x="954.84" y="915">−0.5</text>
<text x="1256.14" y="915">0.0</text>
<text x="1535.94" y="915">0.5</text>
<text x="1815.71" y="915">1.0</text>
<text x="2095.71" y="915">1.5</text>
<text x="2372.61" y="915">2.0</text>
</g>
<g class="t">
<text x="116.84" y="1366">−2.0</text>
<text x="397.04" y="1366">−1.5</text>
<text x="674.64" y="1366">−1.0</text>
<text x="954.84" y="1366">−0.5</text>
<text x="1256.14" y="1366">0.0</text>
<text x="1535.94" y="1366">0.5</text>
<text x="1815.71" y="1366">1.0</text>
<text x="2095.71" y="1366">1.5</text>
<text x="2372.61" y="1366">2.0</text>
</g>
<g class="t">
<text x="116.84" y="1817">−2.0</text>
<text x="397.04" y="1817">−1.5</text>
<text x="674.64" y="1817">−1.0</text>
<text x="954.84" y="1817">−0.5</text>
<text x="1256.14" y="1817">0.0</text>
<text x="1535.94" y="1817">0.5</text>
<text x="1815.71" y="1817">1.0</text>
<text x="2095.71" y="1817">1.5</text>
<text x="2372.61" y="1817">2.0</text>
</g>
<g class="t">
<text x="98.8" y="80">10</text>
<text x="134.7" y="149">8</text>
<text x="134.8" y="216">6</text>
<text x="132.2" y="285">4</text>
<text x="136.7" y="353">2</text>
<text x="135.2" y="519">3</text>
<text x="136.7" y="630">2</text>
<text x="138.3" y="740">1</text>
<text x="133.2" y="850">0</text>
<text x="133.2" y="1010">0</text>
<text x="113.5" y="1136">-2</text>
<text x="110.2" y="1260">-4</text>
<text x="98.8" y="1433">10</text>
<text x="134.7" y="1501">8</text>
<text x="134.8" y="1569">6</text>
<text x="132.2" y="1637.5">4</text>
<text x="136.7" y="1706">2</text>
<text x="133.2" y="1774.4">0</text>
<text transform="translate(61.3 295.8) rotate(-90)" style="font-size:60.6px">Stage</text>
<text transform="translate(101.9 718.8) rotate(-90)" style="font-size:60.3px">v(x)</text>
<text transform="translate(84.8 1152.2) rotate(-90)" style="font-size:60px">CK</text>
<text transform="translate(72.4 1699.6) rotate(-90)" style="font-size:60.3px">Cell level</text>
<text x="1101.2" y="1887" style="font-size:60.25px">Position/1000</text>
</g>
</svg></body></html>
